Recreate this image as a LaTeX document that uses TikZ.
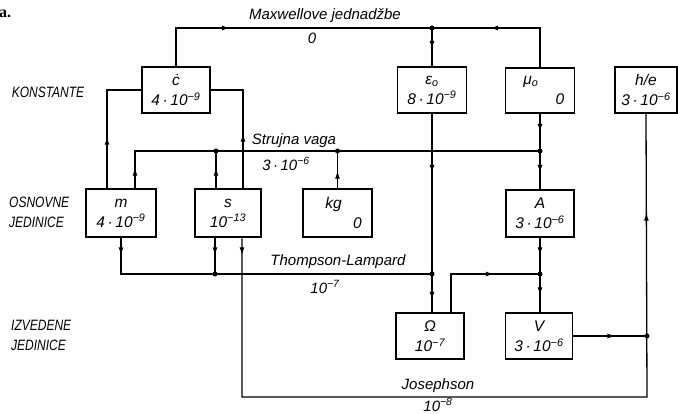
\documentclass[tikz,border=0pt]{standalone}
\usepackage{fontspec}
\setmainfont{Liberation Sans}
\newfontfamily\capsf{Liberation Sans}[FakeStretch=0.8]
\newfontfamily\serf{Liberation Serif}
\usetikzlibrary{arrows.meta,decorations.markings}
\tikzset{
 tipA/.tip={Latex[length=8pt,width=5pt]},
 arr/.style={postaction={decorate,decoration={markings,mark=at position #1 with {\arrow{tipA}}}}},
 conn/.style={line width=1.3pt},
 ubox/.style={draw,line width=1.8pt,inner sep=0pt,align=center,font=\itshape\fontsize{15.5}{20}\selectfont},
 bbox/.style={ubox,line width=2.6pt},
 lbl/.style={font=\itshape\fontsize{15}{18}\selectfont,inner sep=0pt},
 caplbl/.style={font=\capsf\itshape\fontsize{15}{20}\selectfont,inner sep=0pt,align=left},
 dot/.style={circle,fill,inner sep=0pt,minimum size=5pt},
}
\begin{document}
\begin{tikzpicture}[x=1pt,y=-1pt]
\useasboundingbox (0,0) rectangle (678,414);

% boxes
\node[ubox,minimum width=68pt,minimum height=46pt] (c) at (176,90) {ċ\\4\,·\,10\textsuperscript{−9}};
\node[ubox,minimum width=69pt,minimum height=46pt] (eps) at (432,90) {ε\textsubscript{o}\\8\,·\,10\textsuperscript{−9}};
\node[ubox,minimum width=69pt,minimum height=45pt] (mu) at (540,90.5) {μ\textsubscript{o}\hspace*{18pt}\\\hspace*{40pt}0};
\node[ubox,minimum width=62pt,minimum height=46pt] (he) at (646,90) {h/e\\3\,·\,10\textsuperscript{−6}};

\node[bbox,minimum width=70pt,minimum height=48pt] (m) at (121,213) {m\\4\,·\,10\textsuperscript{−9}};
\node[bbox,minimum width=66pt,minimum height=48pt] (s) at (228,213) {s\\10\textsuperscript{−13}};
\node[bbox,minimum width=69pt,minimum height=48pt] (kg) at (337.5,213) {kg\hspace*{8pt}\\\hspace*{40pt}0};
\node[bbox,minimum width=68pt,minimum height=47pt] (A) at (540,213.5) {A\\3\,·\,10\textsuperscript{−6}};

\node[ubox,minimum width=68pt,minimum height=46pt] (Om) at (430,336) {Ω\\10\textsuperscript{−7}};
\node[ubox,minimum width=67pt,minimum height=46pt] (V) at (539,336) {V\\3\,·\,10\textsuperscript{−6}};

% columns and rows
\coordinate (kL) at (107,0);
\coordinate (kM) at (135,0);
\coordinate (kS1) at (216,0);
\coordinate (kS2) at (243,0);
\coordinate (kMb) at (121,0);
\coordinate (kSb1) at (215,0);
\coordinate (kSb2) at (242,0);
\coordinate (kE) at (432,0);
\coordinate (kO) at (451,0);
\coordinate (kA) at (540,0);
\coordinate (kH) at (647,0);
\coordinate (rMax) at (0,28);
\coordinate (rStr) at (0,151);
\coordinate (rTL) at (0,274);
\coordinate (rJos) at (0,397);

\coordinate (jMax) at (kE |- rMax);
\coordinate (jStrS) at (kS1 |- rStr);
\coordinate (jStrK) at (kg.north |- rStr);
\coordinate (jStrA) at (kA |- rStr);
\coordinate (jTLS) at (kSb1 |- rTL);
\coordinate (jTLE) at (kE |- rTL);
\coordinate (jTLA) at (kA |- rTL);
\coordinate (jJos) at (kH |- rJos);
\coordinate (jHV) at (kH |- V.east);

% connectors
\draw[conn,arr=92pt] (c.north) |- (jMax);
\draw[conn,arr=89pt] (mu.north) |- (jMax);
\draw[conn,arr=21pt] (jMax) -- (eps.north);
\draw[conn,arr=51pt] (m.north -| kL) |- (c.west);
\draw[conn,arr=54pt] (s.north -| kS2) |- (c.east);
\draw[conn,arr=20pt] (m.north -| kM) |- (jStrA);
\draw[conn,arr=20pt] (s.north -| kS1) -- (jStrS);
\draw[conn,arr=17pt] (kg.north) -- (jStrK);
\draw[conn,arr=18pt,arr=59pt] (mu.south) -- (A.north);
\draw[conn,arr=59pt,arr=186pt] (eps.south) -- (Om.north -| kE);
\draw[conn,arr=17pt] (m.south -| kMb) |- (jTLE);
\draw[conn,arr=17pt] (s.south -| kSb1) -- (jTLS);
\draw[conn,arr=17pt,arr=748pt] (s.south -| kSb2) |- (jJos) -- (he.south);
\draw[conn,arr=81pt] (Om.north -| kO) |- (jTLA);
\draw[conn,arr=17pt,arr=57pt] (A.south) -- (V.north -| kA);
\draw[conn,arr=42pt] (V.east) -- (jHV);

% junction dots
\node[dot] (d1) at (jMax) {};
\node[dot] (d2) at (jStrS) {};
\node[dot] (d3) at (jStrK) {};
\node[dot] (d4) at (jStrA) {};
\node[dot] (d5) at (jTLS) {};
\node[dot] (d6) at (jTLE) {};
\node[dot] (d7) at (jTLA) {};
\node[dot] (d8) at (jHV) {};

% labels
\node[lbl] (lmax) at (325,16) {Maxwellove jednadžbe};
\node[lbl] (lmax0) at (312,38) {0};
\node[lbl] (lstr) at (294,141) {Strujna vaga};
\node[lbl] (lstrv) at (286,164) {3\,·\,10\textsuperscript{−6}};
\node[lbl] (ltl) at (338,262) {Thompson-Lampard};
\node[lbl] (ltlv) at (325,287) {10\textsuperscript{−7}};
\node[lbl] (ljos) at (438,386) {Josephson};
\node[lbl] (ljosv) at (438,405) {10\textsuperscript{−8}};

\node[caplbl] (lk) at (48,92) {KONSTANTE};
\node[caplbl,anchor=west] (lo) at (9,212) {OSNOVNE\\JEDINICE};
\node[caplbl,anchor=west] (li) at (11,335) {IZVEDENE\\JEDINICE};
\node[font=\serf\bfseries\fontsize{16}{18}\selectfont,inner sep=0pt,anchor=west] (la) at (-1,14) {a.};
\end{tikzpicture}
\end{document}
